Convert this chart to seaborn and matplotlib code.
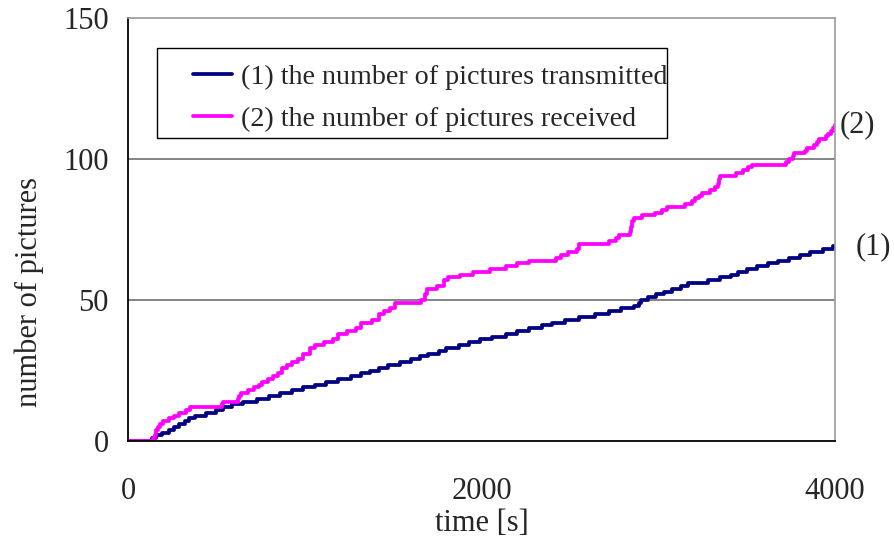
import numpy as np
import pandas as pd
import matplotlib
matplotlib.use("Agg")
import matplotlib.pyplot as plt
from matplotlib.patches import Rectangle
import seaborn as sns

# Cumulative picture counts: times [s] at which each count was reached
sent_time = [0, 135, 160, 190, 230, 260, 290, 320, 345, 380, 440, 500, 540, 590,
             650, 730, 800, 860, 930, 990, 1060, 1120, 1190, 1260, 1320, 1370,
             1420, 1470, 1540, 1600, 1650, 1700, 1760, 1800, 1870, 1930, 1990,
             2060, 2140, 2200, 2270, 2340, 2400, 2470, 2550, 2640, 2720, 2790,
             2860, 2890, 2900, 2940, 2990, 3030, 3080, 3130, 3170, 3280, 3350,
             3410, 3450, 3500, 3560, 3620, 3680, 3740, 3800, 3860, 3930, 3990, 4000]
sent_count = [0, 1, 2, 3, 4, 5, 6, 7, 8, 9, 10, 11, 12, 13,
              14, 15, 16, 17, 18, 19, 20, 21, 22, 23, 24, 25,
              26, 27, 28, 29, 30, 31, 32, 33, 34, 35, 36,
              37, 38, 39, 40, 41, 42, 43, 44, 45, 46, 47,
              48, 49, 50, 51, 52, 53, 54, 55, 56, 57, 58,
              59, 60, 61, 62, 63, 64, 65, 66, 67, 68, 69, 69]

recv_time = [0, 140, 150, 160, 170, 180, 200, 230, 260, 290, 330, 350, 530, 535,
             625, 630, 640, 680, 710, 740, 760, 790, 820, 850, 870, 900, 930, 960,
             990, 1030, 1060, 1110, 1160, 1190, 1240, 1290, 1320, 1380, 1420, 1450,
             1480, 1510, 1660, 1680, 1690, 1750, 1790, 1810, 1880, 1950, 2050, 2140,
             2200, 2270, 2420, 2450, 2490, 2540, 2550, 2720, 2760, 2780, 2840, 2845,
             2850, 2860, 2910, 2980, 3020, 3050, 3150, 3190, 3210, 3230, 3250, 3290,
             3320, 3340, 3345, 3350, 3440, 3480, 3510, 3530, 3720, 3740, 3760, 3770,
             3830, 3840, 3880, 3900, 3910, 3950, 3960, 3980, 3990, 4000]
recv_count = [0, 1, 2, 4, 5, 6, 7, 8, 9, 10, 11, 12, 13, 14,
              15, 16, 17, 18, 19, 20, 21, 22, 23, 24, 26, 27, 28, 29,
              31, 33, 34, 35, 36, 38, 39, 40, 42, 43, 45, 46,
              47, 49, 50, 52, 54, 55, 57, 58, 59, 60, 61, 62,
              63, 64, 65, 66, 67, 68, 70, 71, 72, 73, 74, 76,
              78, 79, 80, 81, 82, 83, 84, 85, 86, 87, 88, 89,
              90, 91, 93, 94, 95, 96, 97, 98, 99, 100, 101, 102,
              103, 104, 105, 106, 107, 108, 109, 110, 111, 112]

series_labels = ["(1) the number of pictures transmitted",
                 "(2) the number of pictures received"]
end_tags = ["(1)", "(2)"]
x_ticks = [0, 2000, 4000]
y_ticks = [0, 50, 100, 150]

df = pd.concat([
    pd.DataFrame({"time": sent_time, "count": sent_count, "series": series_labels[0]}),
    pd.DataFrame({"time": recv_time, "count": recv_count, "series": series_labels[1]}),
], ignore_index=True)

sns.set_theme(style="white")
plt.rcParams["font.family"] = ["Liberation Serif", "DejaVu Serif"]

colors = {series_labels[0]: "#000080", series_labels[1]: "#FF00FF"}
line_w = 2.7

fig = plt.figure(figsize=(8.94, 5.42), dpi=100)
ax = fig.add_axes([0.1432, 0.1863, 0.7908, 0.7805])

sns.lineplot(data=df, x="time", y="count", hue="series", palette=colors,
             estimator=None, sort=False, drawstyle="steps-post",
             linewidth=line_w, ax=ax, legend=False)

ax.set_xlim(0, 4000)
ax.set_ylim(0, 150)
ax.set_xticks(x_ticks)
ax.set_yticks(y_ticks)
ax.tick_params(axis="x", direction="in", length=5, width=1, color="#333333",
               labelsize=22, pad=26)
ax.tick_params(axis="y", direction="in", length=4, width=1, color="#333333",
               labelsize=22, pad=14)
ax.set_xlabel("time [s]", fontsize=22, labelpad=2)
ax.set_ylabel("number of pictures", fontsize=22, labelpad=14, y=0.352)

# horizontal reference lines
for yv in (50, 100):
    ax.axhline(yv, color="#6e6e6e", linewidth=1.2, zorder=0.5)

for side in ("left", "bottom"):
    ax.spines[side].set_color("black")
    ax.spines[side].set_linewidth(1.3)
for side in ("top", "right"):
    ax.spines[side].set_color("#9a9a9a")
    ax.spines[side].set_linewidth(1.2)

# legend with a plain rectangular frame
handles = [plt.Line2D([], [], color=colors[s], linewidth=line_w) for s in series_labels]
ax.legend(handles, series_labels, loc="center left",
          bbox_to_anchor=(0.092, 0.811), frameon=False, fontsize=20.2,
          handlelength=1.4, handletextpad=0.3, labelspacing=0.6, borderpad=0,
          borderaxespad=0)
ax.add_patch(Rectangle((0.041, 0.716), 0.721, 0.213, transform=ax.transAxes,
                       fill=False, edgecolor="black", linewidth=1.0, zorder=3))

# end-of-line tags
ax.annotate(end_tags[0], xy=(sent_time[-1], sent_count[-1]), xytext=(15, 0),
            textcoords="offset points", va="center", ha="left", fontsize=22,
            annotation_clip=False)
ax.annotate(end_tags[1], xy=(recv_time[-1], recv_count[-1]), xytext=(3, 0),
            textcoords="offset points", va="center", ha="left", fontsize=22,
            annotation_clip=False)

fig.savefig("out.png", dpi=100)
